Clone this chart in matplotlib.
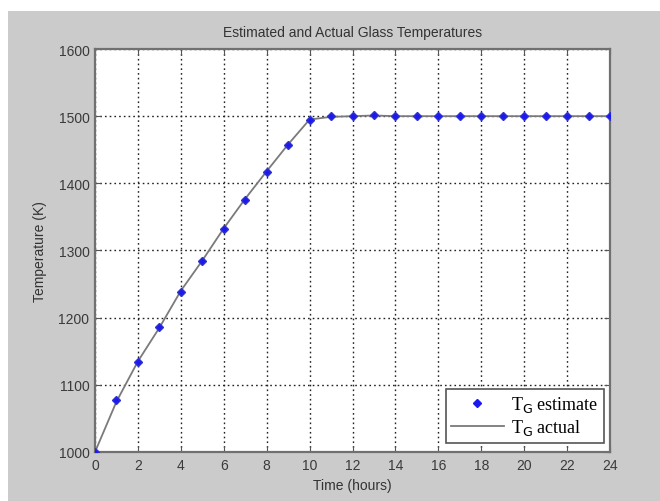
import matplotlib.pyplot as plt
from matplotlib.patches import Rectangle
from matplotlib.lines import Line2D

plt.rcParams["font.family"] = ["Liberation Sans", "DejaVu Sans"]

hours = list(range(25))
t_estimate = [1000, 1077, 1134, 1186, 1238, 1284, 1332, 1375, 1417, 1457,
              1494, 1500, 1500, 1502, 1500, 1500, 1500, 1500, 1500, 1500,
              1500, 1500, 1500, 1500, 1500]
t_actual = [1000, 1075, 1135, 1185, 1240, 1285, 1333, 1377, 1418, 1458,
            1495, 1499, 1500, 1501, 1500, 1500, 1500, 1500, 1500, 1500,
            1500, 1500, 1500, 1500, 1500]
x_ticks = list(range(0, 25, 2))
y_ticks = [1000, 1100, 1200, 1300, 1400, 1500, 1600]

W, H = 660, 502
fig = plt.figure(figsize=(W / 100, H / 100), dpi=100, facecolor="white")

# grey panel behind the plot
fig.patches.append(Rectangle((8 / W, 0), 1 - 8 / W, 1 - 12 / H,
                             transform=fig.transFigure, facecolor="#cbcbcb",
                             edgecolor="none", zorder=-10))

ax = fig.add_axes([95 / W, 1 - 453 / H, (610 - 95) / W, (453 - 50) / H])
ax.set_facecolor("white")

ax.plot(hours, t_actual, color="#7a7a7a", lw=1.3, zorder=3)
ax.plot(hours, t_estimate, ls="none", marker="D", ms=4.5, color="#1a1af0",
        markeredgecolor="#3030d0", zorder=4)

ax.set_xlim(0, 24)
ax.set_ylim(1000, 1600)
ax.set_xticks(x_ticks)
ax.set_yticks(y_ticks)
ax.grid(True, color="#222222", ls=(0, (1.2, 2.2)), lw=1.0)
ax.tick_params(direction="in", length=4, colors="#555555", labelsize=10,
               labelcolor="#3a3a3a", top=True, right=True, pad=4)
for s in ax.spines.values():
    s.set_color("#707070")
    s.set_linewidth(1.6)

ax.set_title("Estimated and Actual Glass Temperatures", fontsize=10,
             color="#333333", pad=9)
ax.set_xlabel("Time (hours)", fontsize=10, color="#333333", labelpad=5)
ax.set_ylabel("Temperature (K)", fontsize=10, color="#333333", labelpad=8)

handles = [Line2D([], [], ls="none", marker="D", ms=4.5, color="#1a1af0"),
           Line2D([], [], color="#7a7a7a", lw=1.3)]
leg = ax.legend(handles, [r"T$_{\mathrm{G}}$ estimate", r"T$_{\mathrm{G}}$ actual"],
                loc="lower right", bbox_to_anchor=(0.998, 0.01),
                prop={"family": "Liberation Serif", "size": 13},
                frameon=True, fancybox=False, edgecolor="#555555",
                framealpha=1, handlelength=2.9, borderpad=0.3,
                labelspacing=0.15, handletextpad=0.4, borderaxespad=0.3)
leg.get_frame().set_linewidth(1.2)

fig.savefig("out.png", dpi=100, facecolor=fig.get_facecolor())
